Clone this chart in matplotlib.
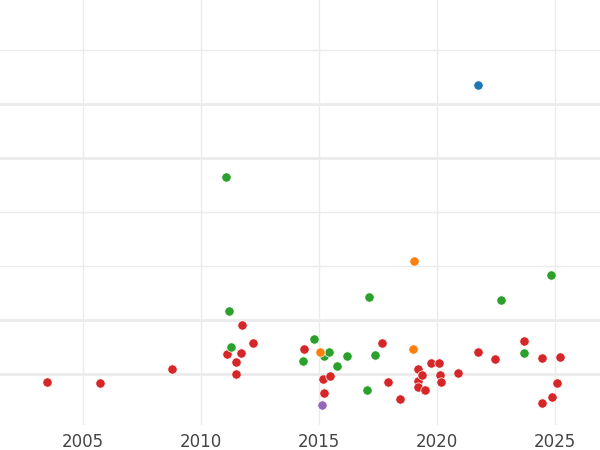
import matplotlib
matplotlib.use("Agg")
import matplotlib.pyplot as plt

blue_x = [2021.74]; blue_y = [5.35]
green_x = [2011.06, 2011.19, 2011.27, 2014.32, 2014.79, 2015.21, 2015.42, 2015.76, 2016.19, 2017.12, 2017.03, 2017.37, 2022.71, 2023.69, 2024.83]
green_y = [3.65, 1.17, 0.50, 0.24, 0.65, 0.33, 0.41, 0.15, 0.33, 1.43, -0.30, 0.35, 1.37, 0.39, 1.83]
orange_x = [2019.03, 2015.04, 2018.98]; orange_y = [2.09, 0.41, 0.46]
purple_x = [2015.13]; purple_y = [-0.57]
red_x = [2003.47, 2005.72, 2008.77, 2011.10, 2011.48, 2011.48, 2011.69, 2011.74, 2012.20, 2014.36,
         2015.17, 2015.21, 2015.47, 2017.67, 2017.92, 2018.43, 2019.19, 2019.19, 2019.19, 2019.36,
         2019.49, 2019.75, 2020.08, 2020.13, 2020.17, 2020.89, 2021.74, 2022.46, 2023.69, 2024.45,
         2024.45, 2024.87, 2025.08, 2025.21]
red_y = [-0.15, -0.17, 0.09, 0.37, 0.22, 0.0, 0.39, 0.91, 0.57, 0.46,
         -0.09, -0.35, -0.04, 0.57, -0.15, -0.46, 0.09, -0.13, -0.24, -0.02,
         -0.30, 0.20, 0.20, -0.02, -0.15, 0.02, 0.41, 0.28, 0.61, 0.30,
         -0.54, -0.43, -0.17, 0.31]
xticks = [2005, 2010, 2015, 2020, 2025]

fig = plt.figure(figsize=(6, 4.5), dpi=100)
ax = fig.add_axes([0, 0.056, 1, 0.944])
ax.set_xlim(2001.48, 2026.9)
ax.set_ylim(-0.94, 6.93)
for y in [0, 1, 4, 5]:
    ax.axhline(y, color='#ebebeb', lw=2, zorder=0)
for y in [2, 3, 6]:
    ax.axhline(y, color='#ebebeb', lw=1, zorder=0)
for x in xticks:
    ax.axvline(x, color='#ebebeb', lw=1, zorder=0)
for xs, ys, c in [(red_x, red_y, '#d62728'), (green_x, green_y, '#2ca02c'),
                  (orange_x, orange_y, '#ff7f0e'), (purple_x, purple_y, '#9467bd'),
                  (blue_x, blue_y, '#1f77b4')]:
    ax.scatter(xs, ys, s=45, color=c, edgecolors='white', linewidths=0.5, zorder=3)
ax.set_xticks(xticks)
ax.set_xticklabels([str(t) for t in xticks], fontsize=12, color='#444444')
ax.set_yticks([])
ax.tick_params(axis='x', length=0, pad=6)
for s in ax.spines.values():
    s.set_visible(False)
fig.savefig("out.png", dpi=100)
